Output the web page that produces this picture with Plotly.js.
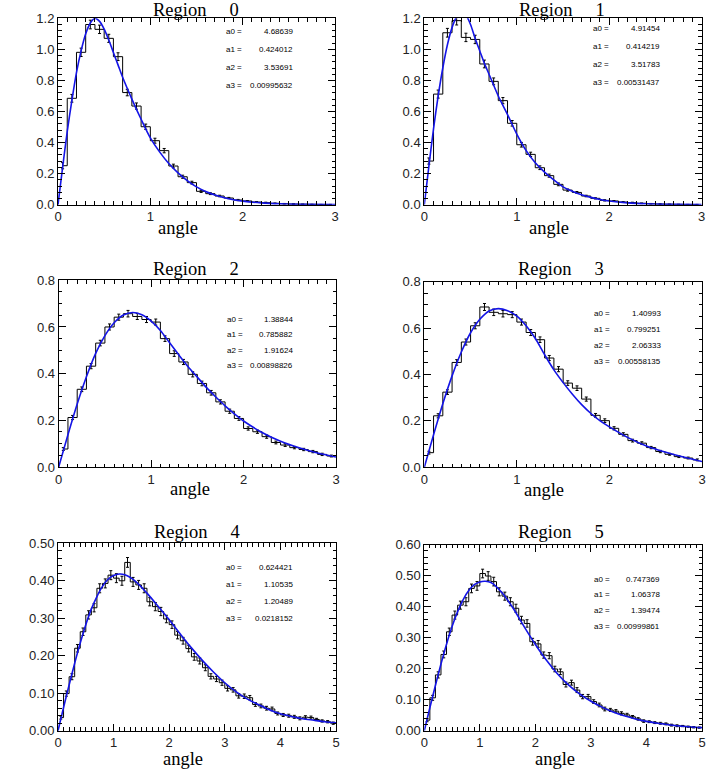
<!DOCTYPE html>
<html>
<head>
<meta charset="utf-8">
<script src="https://cdn.plot.ly/plotly-3.0.1.min.js"></script>
<style>
  html, body { margin: 0; padding: 0; background: #fff; }
  #grafico { width: 706px; height: 773px; }
</style>
</head>
<body>
<div id="grafico"></div>
<script>
// bin centres (width 0.1)
var centri3 = [0.05, 0.15, 0.25, 0.35, 0.45, 0.55, 0.65, 0.75, 0.85, 0.95,
    1.05, 1.15, 1.25, 1.35, 1.45, 1.55, 1.65, 1.75, 1.85, 1.95,
    2.05, 2.15, 2.25, 2.35, 2.45, 2.55, 2.65, 2.75, 2.85, 2.95];
var centri5 = [0.05, 0.15, 0.25, 0.35, 0.45, 0.55, 0.65, 0.75, 0.85, 0.95,
    1.05, 1.15, 1.25, 1.35, 1.45, 1.55, 1.65, 1.75, 1.85, 1.95,
    2.05, 2.15, 2.25, 2.35, 2.45, 2.55, 2.65, 2.75, 2.85, 2.95,
    3.05, 3.15, 3.25, 3.35, 3.45, 3.55, 3.65, 3.75, 3.85, 3.95,
    4.05, 4.15, 4.25, 4.35, 4.45, 4.55, 4.65, 4.75, 4.85, 4.95];

// istogrammi
var hist0 = [0.251, 0.685, 0.981, 1.160, 1.129, 1.071, 0.953, 0.722, 0.635, 0.502,
    0.412, 0.348, 0.249, 0.180, 0.142, 0.086, 0.071, 0.056, 0.043, 0.030,
    0.024, 0.017, 0.013, 0.009, 0.006, 0.004, 0.003, 0.002, 0.001, 0.001];
var err0 = [0.020, 0.025, 0.027, 0.028, 0.027, 0.026, 0.025, 0.021, 0.020, 0.017,
    0.016, 0.014, 0.012, 0.010, 0.009, 0.007, 0.006, 0.005, 0.004, 0.004,
    0.003, 0.003, 0.003, 0.002, 0.002, 0.002, 0.001, 0.001, 0.001, 0.001];

var hist1 = [0.281, 0.712, 1.107, 1.185, 1.077, 1.064, 0.906, 0.794, 0.670, 0.524,
    0.386, 0.324, 0.238, 0.187, 0.131, 0.094, 0.079, 0.056, 0.041, 0.028,
    0.024, 0.017, 0.013, 0.009, 0.006, 0.004, 0.003, 0.002, 0.001, 0.001];
var err1 = [0.020, 0.026, 0.028, 0.028, 0.027, 0.027, 0.025, 0.022, 0.020, 0.018,
    0.015, 0.014, 0.012, 0.010, 0.009, 0.007, 0.006, 0.005, 0.004, 0.004,
    0.003, 0.003, 0.003, 0.002, 0.002, 0.002, 0.001, 0.001, 0.001, 0.001];

var hist2 = [0.077, 0.212, 0.333, 0.432, 0.531, 0.600, 0.642, 0.657, 0.645, 0.632,
    0.621, 0.550, 0.486, 0.450, 0.397, 0.358, 0.318, 0.279, 0.239, 0.208,
    0.165, 0.151, 0.130, 0.105, 0.094, 0.083, 0.075, 0.066, 0.054, 0.047];
var err2 = [0.006, 0.009, 0.010, 0.011, 0.012, 0.013, 0.013, 0.014, 0.013, 0.013,
    0.013, 0.012, 0.012, 0.011, 0.011, 0.010, 0.010, 0.009, 0.009, 0.008,
    0.007, 0.007, 0.007, 0.006, 0.006, 0.005, 0.005, 0.005, 0.005, 0.004];

var hist3 = [0.063, 0.222, 0.324, 0.452, 0.540, 0.610, 0.691, 0.668, 0.662, 0.658,
    0.626, 0.581, 0.550, 0.471, 0.423, 0.363, 0.341, 0.294, 0.224, 0.201,
    0.168, 0.142, 0.115, 0.104, 0.085, 0.068, 0.056, 0.046, 0.040, 0.032];
var err3 = [0.006, 0.009, 0.010, 0.012, 0.013, 0.013, 0.015, 0.014, 0.014, 0.013,
    0.013, 0.013, 0.012, 0.011, 0.011, 0.010, 0.010, 0.009, 0.008, 0.008,
    0.007, 0.007, 0.006, 0.006, 0.005, 0.005, 0.004, 0.004, 0.004, 0.004];

var hist4 = [0.035, 0.099, 0.144, 0.220, 0.264, 0.309, 0.328, 0.380, 0.393, 0.415,
    0.407, 0.400, 0.449, 0.397, 0.389, 0.380, 0.344, 0.331, 0.318, 0.298,
    0.283, 0.255, 0.240, 0.219, 0.197, 0.186, 0.168, 0.145, 0.138, 0.128,
    0.113, 0.109, 0.093, 0.092, 0.088, 0.070, 0.066, 0.060, 0.058, 0.046,
    0.042, 0.040, 0.037, 0.033, 0.036, 0.035, 0.030, 0.026, 0.024, 0.020];
var err4 = [0.004, 0.007, 0.008, 0.010, 0.010, 0.011, 0.011, 0.012, 0.012, 0.012,
    0.012, 0.012, 0.013, 0.012, 0.012, 0.012, 0.011, 0.011, 0.011, 0.010,
    0.010, 0.010, 0.009, 0.009, 0.009, 0.008, 0.008, 0.007, 0.007, 0.007,
    0.007, 0.006, 0.006, 0.006, 0.006, 0.005, 0.005, 0.005, 0.005, 0.004,
    0.004, 0.004, 0.004, 0.004, 0.004, 0.004, 0.003, 0.003, 0.003, 0.003];

var hist5 = [0.034, 0.106, 0.180, 0.246, 0.319, 0.373, 0.405, 0.416, 0.459, 0.467,
    0.507, 0.499, 0.481, 0.448, 0.434, 0.416, 0.395, 0.357, 0.346, 0.287,
    0.280, 0.244, 0.242, 0.199, 0.190, 0.149, 0.155, 0.131, 0.110, 0.110,
    0.094, 0.083, 0.070, 0.067, 0.063, 0.056, 0.051, 0.045, 0.038, 0.031,
    0.029, 0.026, 0.024, 0.022, 0.018, 0.016, 0.015, 0.013, 0.011, 0.010];
var err5 = [0.005, 0.008, 0.010, 0.011, 0.012, 0.013, 0.013, 0.013, 0.014, 0.014,
    0.014, 0.014, 0.014, 0.013, 0.013, 0.013, 0.013, 0.012, 0.012, 0.011,
    0.011, 0.010, 0.010, 0.009, 0.009, 0.008, 0.008, 0.008, 0.007, 0.007,
    0.006, 0.006, 0.006, 0.005, 0.005, 0.005, 0.005, 0.004, 0.004, 0.004,
    0.003, 0.003, 0.003, 0.003, 0.003, 0.003, 0.002, 0.002, 0.002, 0.002];

// curve di fit
var fitX0 = [0, 0.05, 0.1, 0.15, 0.2, 0.25, 0.3, 0.35, 0.4, 0.45, 0.5, 0.55, 0.6, 0.65, 0.7,
    0.8, 0.9, 1.0, 1.1, 1.2, 1.3, 1.4, 1.5, 1.6, 1.7, 1.8, 1.9, 2.0, 2.2, 2.4, 2.7, 3.0];
var fitY0 = [0, 0.24, 0.47, 0.67, 0.85, 0.99, 1.10, 1.17, 1.20, 1.18, 1.13, 1.06, 0.98, 0.90, 0.82,
    0.68, 0.55, 0.43, 0.34, 0.265, 0.205, 0.155, 0.115, 0.085, 0.062, 0.045, 0.032, 0.023, 0.012, 0.006, 0.002, 0.001];
var fitX1 = [0, 0.05, 0.1, 0.15, 0.2, 0.25, 0.3, 0.35, 0.4, 0.45, 0.5, 0.55, 0.6, 0.65, 0.7,
    0.8, 0.9, 1.0, 1.1, 1.2, 1.3, 1.4, 1.5, 1.6, 1.7, 1.8, 1.9, 2.0, 2.2, 2.4, 2.7, 3.0];
var fitY1 = [0, 0.25, 0.49, 0.70, 0.88, 1.03, 1.14, 1.21, 1.235, 1.22, 1.16, 1.07, 0.99, 0.91, 0.84,
    0.70, 0.58, 0.455, 0.35, 0.27, 0.21, 0.16, 0.115, 0.087, 0.064, 0.047, 0.034, 0.024, 0.012, 0.006, 0.002, 0.001];
var fitX2 = [0, 0.1, 0.2, 0.3, 0.4, 0.5, 0.6, 0.7, 0.8, 0.9, 1.0, 1.1, 1.2, 1.3, 1.4,
    1.5, 1.6, 1.7, 1.8, 1.9, 2.0, 2.2, 2.4, 2.6, 2.8, 3.0];
var fitY2 = [0, 0.138, 0.27, 0.387, 0.487, 0.563, 0.618, 0.651, 0.662, 0.652, 0.625, 0.585, 0.532, 0.48, 0.43,
    0.385, 0.34, 0.30, 0.262, 0.228, 0.197, 0.148, 0.11, 0.082, 0.06, 0.043];
var fitX3 = [0, 0.1, 0.2, 0.3, 0.4, 0.5, 0.6, 0.7, 0.8, 0.9, 1.0, 1.1, 1.2, 1.3, 1.4,
    1.5, 1.6, 1.7, 1.8, 1.9, 2.0, 2.2, 2.4, 2.6, 2.8, 3.0];
var fitY3 = [0, 0.14, 0.274, 0.394, 0.497, 0.58, 0.638, 0.674, 0.684, 0.675, 0.652, 0.61, 0.555, 0.485, 0.42,
    0.365, 0.315, 0.27, 0.232, 0.2, 0.174, 0.128, 0.092, 0.066, 0.044, 0.025];
var fitX4 = [0, 0.1, 0.2, 0.3, 0.4, 0.5, 0.6, 0.7, 0.8, 0.9, 1.0, 1.1, 1.2, 1.4, 1.6,
    1.8, 2.0, 2.2, 2.4, 2.6, 2.8, 3.0, 3.2, 3.4, 3.6, 3.8, 4.0, 4.2, 4.4, 4.6, 4.8, 5.0];
var fitY4 = [0, 0.062, 0.122, 0.18, 0.234, 0.283, 0.325, 0.358, 0.385, 0.404, 0.414, 0.418, 0.416, 0.398, 0.367,
    0.332, 0.296, 0.258, 0.221, 0.187, 0.156, 0.128, 0.104, 0.085, 0.07, 0.056, 0.045, 0.038, 0.032, 0.028, 0.024, 0.021];
var fitX5 = [0, 0.1, 0.2, 0.3, 0.4, 0.5, 0.6, 0.7, 0.8, 0.9, 1.0, 1.1, 1.2, 1.4, 1.6,
    1.8, 2.0, 2.2, 2.4, 2.6, 2.8, 3.0, 3.2, 3.4, 3.6, 3.8, 4.0, 4.2, 4.4, 4.6, 4.8, 5.0];
var fitY5 = [0, 0.074, 0.146, 0.215, 0.279, 0.336, 0.384, 0.423, 0.452, 0.471, 0.480, 0.482, 0.478, 0.445, 0.395,
    0.335, 0.278, 0.227, 0.183, 0.147, 0.118, 0.095, 0.076, 0.06, 0.048, 0.038, 0.03, 0.024, 0.019, 0.015, 0.012, 0.01];

// parametri del fit
var nomiParam = ['a0 =', 'a1 =', 'a2 =', 'a3 ='];
var param0 = ['4.68639', '0.424012', '3.53691', '0.00995632'];
var param1 = ['4.91454', '0.414219', '3.51783', '0.00531437'];
var param2 = ['1.38844', '0.785882', '1.91624', '0.00898826'];
var param3 = ['1.40993', '0.799251', '2.06333', '0.00558135'];
var param4 = ['0.624421', '1.10535', '1.20489', '0.0218152'];
var param5 = ['0.747369', '1.06378', '1.39474', '0.00999861'];

var titoli = ['Region', 'Region', 'Region', 'Region', 'Region', 'Region'];
var numeri = ['0', '1', '2', '3', '4', '5'];
var etichettaX = 'angle';

var W = 706, H = 773;
function px(x) { return x / W; }
function py(y) { return 1 - y / H; }

// geometria dei pannelli in pixel
var pannelli = [
    { c: centri3, h: hist0, e: err0, fx: fitX0, fy: fitY0, p: param0,
      box: [58, 335, 18.3, 204.7], xr: [0, 3], yr: [0, 1.2], ydt: 0.2, ymin: 0.04, yf: '.1f',
      tit: [196, 10], lab: [177.5, 228], par: [224, 295, 31.7, 17.9] },
    { c: centri3, h: hist1, e: err1, fx: fitX1, fy: fitY1, p: param1,
      box: [424.3, 701.7, 18.3, 204.7], xr: [0, 3], yr: [0, 1.2], ydt: 0.2, ymin: 0.04, yf: '.1f',
      tit: [562, 10], lab: [549, 228], par: [591, 661.7, 28.3, 18] },
    { c: centri3, h: hist2, e: err2, fx: fitX2, fy: fitY2, p: param2,
      box: [58.7, 336, 280.3, 467], xr: [0, 3], yr: [0, 0.8], ydt: 0.2, ymin: 0.05, yf: '.1f',
      tit: [196, 268.5], lab: [189.5, 489], par: [225, 295, 319.3, 15.5] },
    { c: centri3, h: hist3, e: err3, fx: fitX3, fy: fitY3, p: param3,
      box: [424.3, 702, 281.7, 467.3], xr: [0, 3], yr: [0, 0.8], ydt: 0.2, ymin: 0.05, yf: '.1f',
      tit: [561.3, 268.5], lab: [544, 490], par: [592, 663.3, 313.3, 15.9] },
    { c: centri5, h: hist4, e: err4, fx: fitX4, fy: fitY4, p: param4,
      box: [58, 336, 543.3, 730.7], xr: [0, 5], yr: [0, 0.5], ydt: 0.1, ymin: 0.02, yf: '.2f',
      tit: [196.7, 531.5], lab: [182.5, 759], par: [224.3, 295, 567.3, 17.2] },
    { c: centri5, h: hist5, e: err5, fx: fitX5, fy: fitY5, p: param5,
      box: [424.3, 702, 544.7, 730.7], xr: [0, 5], yr: [0, 0.6], ydt: 0.1, ymin: 0.02, yf: '.2f',
      tit: [560.8, 532], lab: [555, 759], par: [591.7, 662.3, 579, 15.9] }
];

var fontTick = { family: 'Liberation Sans, Arial, sans-serif', size: 13, color: '#222' };
var fontSerif = { family: 'Liberation Serif, Times New Roman, serif', size: 18.5, color: '#000' };
var fontPar = { family: 'Liberation Sans, Arial, sans-serif', size: 8, color: '#000' };

var dati = [];
var layout = {
    width: W, height: H,
    margin: { l: 0, r: 0, t: 0, b: 0 },
    paper_bgcolor: '#fff', plot_bgcolor: '#fff',
    showlegend: false,
    annotations: []
};

pannelli.forEach(function (pn, i) {
    var n = i === 0 ? '' : String(i + 1);
    var xa = 'x' + n, ya = 'y' + n;

    dati.push({
        type: 'scatter', mode: 'lines', x: pn.c, y: pn.h, xaxis: xa, yaxis: ya,
        line: { shape: 'hvh', color: '#000', width: 1 },
        error_y: { type: 'data', array: pn.e, visible: true, color: '#000', thickness: 1, width: 1.5 },
        hoverinfo: 'skip'
    });
    dati.push({
        type: 'scatter', mode: 'lines', x: pn.fx, y: pn.fy, xaxis: xa, yaxis: ya,
        line: { shape: 'spline', smoothing: 0.8, color: '#1414e6', width: 1.6 },
        hoverinfo: 'skip'
    });

    var comune = {
        showline: true, mirror: 'allticks', linecolor: '#000', linewidth: 1,
        ticks: 'inside', tickcolor: '#000', ticklen: 7, tickwidth: 1,
        showgrid: false, zeroline: false, fixedrange: true, tickfont: fontTick
    };
    layout['xaxis' + n] = Object.assign({}, comune, {
        domain: [px(pn.box[0]), px(pn.box[1])], range: pn.xr, anchor: ya,
        tick0: 0, dtick: 1,
        minor: { ticks: 'inside', dtick: 0.1, ticklen: 3.5, tickcolor: '#000' }
    });
    layout['yaxis' + n] = Object.assign({}, comune, {
        domain: [py(pn.box[3]), py(pn.box[2])], range: pn.yr, anchor: xa,
        tick0: 0, dtick: pn.ydt, tickformat: pn.yf,
        minor: { ticks: 'inside', dtick: pn.ymin, ticklen: 3.5, tickcolor: '#000' }
    });

    layout.annotations.push({
        xref: 'paper', yref: 'paper', x: px(pn.tit[0]), y: py(pn.tit[1]),
        xanchor: 'center', yanchor: 'middle', showarrow: false,
        text: titoli[i] + '\u00a0\u00a0\u00a0\u00a0\u00a0' + numeri[i], font: fontSerif
    });
    layout.annotations.push({
        xref: 'paper', yref: 'paper', x: px(pn.lab[0]), y: py(pn.lab[1]),
        xanchor: 'center', yanchor: 'middle', showarrow: false,
        text: etichettaX, font: fontSerif
    });
    for (var k = 0; k < 4; k++) {
        var yy = py(pn.par[2] + k * pn.par[3]);
        layout.annotations.push({
            xref: 'paper', yref: 'paper', x: px(pn.par[0]), y: yy,
            xanchor: 'left', yanchor: 'middle', showarrow: false,
            text: nomiParam[k], font: fontPar
        });
        layout.annotations.push({
            xref: 'paper', yref: 'paper', x: px(pn.par[1]), y: yy,
            xanchor: 'right', yanchor: 'middle', showarrow: false,
            text: pn.p[k], font: fontPar
        });
    }
});

Plotly.newPlot('grafico', dati, layout, { staticPlot: true });
</script>
</body>
</html>
